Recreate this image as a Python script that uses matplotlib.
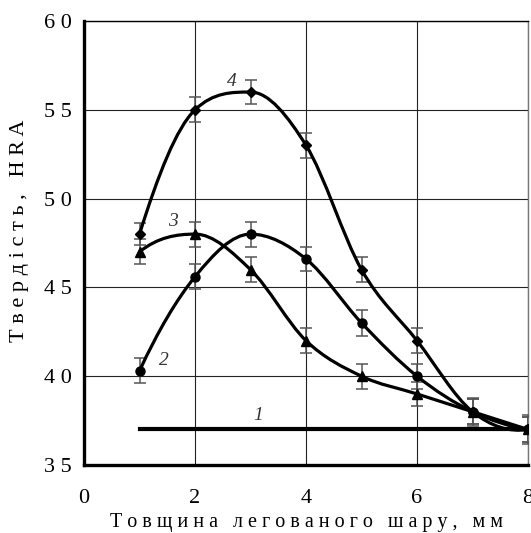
import numpy as np
import matplotlib.pyplot as plt
from matplotlib.path import Path
from matplotlib.patches import PathPatch
from matplotlib.ticker import FuncFormatter

plt.rcParams['font.family'] = ['Liberation Serif', 'DejaVu Serif']

# товщина легованого шару, мм
x = [1, 2, 3, 4, 5, 6, 7, 8]
# крива 1 - без легування
x1 = [1, 8]
y1 = [37, 37]
# крива 2 (кола)
y2 = [40.3, 45.6, 48.0, 46.6, 43.0, 40.0, 38.0, 37.0]
e2 = [0.7, 0.7, 0.7, 0.7, 0.75, 0.7, 0.8, 0.8]
# крива 3 (трикутники)
y3 = [47.0, 48.0, 46.0, 42.0, 40.0, 39.0, 38.0, 37.0]
e3 = [0.7, 0.7, 0.7, 0.7, 0.7, 0.7, 0.7, 0.7]
# крива 4 (ромби)
y4 = [48.0, 55.0, 56.0, 53.0, 46.0, 42.0, 38.0, 37.0]
e4 = [0.6, 0.7, 0.7, 0.7, 0.7, 0.7, 0.7, 0.7]


def smooth_path(xs, ys):
    # плавна крива через точки -> Bezier (без викидів на екстремумах)
    xs = np.asarray(xs, float)
    ys = np.asarray(ys, float)
    h = np.diff(xs)
    d = np.diff(ys) / h
    n = len(xs)
    m = np.zeros(n)
    for i in range(1, n - 1):
        if d[i - 1] * d[i] > 0:
            m[i] = (ys[i + 1] - ys[i - 1]) / (xs[i + 1] - xs[i - 1])
    m[0] = ((2 * h[0] + h[1]) * d[0] - h[0] * d[1]) / (h[0] + h[1])
    m[-1] = ((2 * h[-1] + h[-2]) * d[-1] - h[-1] * d[-2]) / (h[-1] + h[-2])
    for i in range(n - 1):
        if d[i] == 0:
            m[i] = m[i + 1] = 0
            continue
        a, b = m[i] / d[i], m[i + 1] / d[i]
        s = a * a + b * b
        if s > 9:
            t = 3 / np.sqrt(s)
            m[i], m[i + 1] = t * a * d[i], t * b * d[i]
    verts = [(xs[0], ys[0])]
    codes = [Path.MOVETO]
    for i in range(n - 1):
        k = h[i] / 3.0
        verts += [(xs[i] + k, ys[i] + k * m[i]),
                  (xs[i + 1] - k, ys[i + 1] - k * m[i + 1]),
                  (xs[i + 1], ys[i + 1])]
        codes += [Path.CURVE4] * 3
    return Path(verts, codes)


fig = plt.figure(figsize=(5.31, 5.33), dpi=100)
ax = fig.add_axes([0.1582, 0.1276, 0.8362, 0.8330])

ax.set_xlim(0, 8)
ax.set_ylim(35, 60)
ax.set_xticks([0, 2, 4, 6, 8])
ax.set_yticks([35, 40, 45, 50, 55, 60])
ax.grid(True, color='#222222', linewidth=0.8)
ax.set_axisbelow(True)

for ys, es, mk, ms in [(y2, e2, 'o', 6.5), (y3, e3, '^', 6.5), (y4, e4, 'D', 5)]:
    ax.errorbar(x, ys, yerr=es, fmt='none', ecolor='#555555', elinewidth=1.1,
                capsize=4, capthick=1.1, zorder=3)
    ax.add_patch(PathPatch(smooth_path(x, ys), facecolor='none',
                           edgecolor='black', linewidth=2.3, zorder=4))
    ax.plot(x, ys, linestyle='none', marker=mk, markersize=ms,
            color='black', zorder=5)

ax.plot(x1, y1, color='black', linewidth=3, zorder=4)

lab = dict(fontsize=14, style='italic', color='#333333', ha='center', va='center')
ax.text(3.14, 37.8, '1', **lab)
ax.text(1.43, 40.9, '2', **lab)
ax.text(1.6, 48.7, '3', **lab)
ax.text(2.67, 56.6, '4', **lab)

ax.spines['left'].set_linewidth(2.4)
ax.spines['bottom'].set_linewidth(2.4)
ax.spines['top'].set_linewidth(1.0)
ax.spines['right'].set_linewidth(1.0)
ax.spines['right'].set_color('#777777')

ax.tick_params(length=0, labelsize=16)
ax.tick_params(axis='y', pad=9)
ax.tick_params(axis='x', pad=17)
ax.yaxis.set_major_formatter(FuncFormatter(lambda v, p: ' '.join(str(int(v)))))


def spaced(s):
    return ' '.join(s)


ax.set_xlabel(spaced('Товщина легованого шару, мм'), fontsize=14.5, labelpad=4)
ax.set_ylabel(spaced('Твердість, HRA'), fontsize=16)
ax.yaxis.set_label_coords(-0.125, 0.527)

fig.savefig('out.png', dpi=100)
